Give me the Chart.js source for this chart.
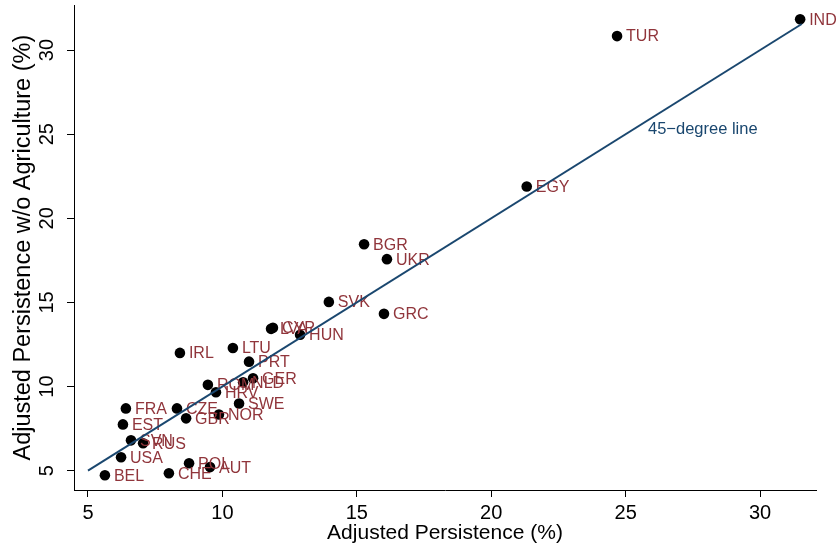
<!DOCTYPE html>
<html>
<head>
<meta charset="utf-8">
<script src="https://cdn.jsdelivr.net/npm/chart.js@4"></script>
<style>
  html, body { margin: 0; padding: 0; background: #ffffff; }
  #wrap { width: 838px; height: 550px; }
</style>
</head>
<body>
<div id="wrap"><canvas id="chart" width="838" height="550"></canvas></div>
<script>
// Country codes and the two persistence measures (%)
const countries = ['IND','TUR','EGY','BGR','UKR','SVK','GRC','HUN','LVA','CYP',
                   'IRL','LTU','PRT','GER','NLD','ROM','HRV','SWE','NOR','CZE',
                   'GBR','FRA','EST','SVN','RUS','USA','BEL','CHE','POL','AUT'];
const adjPersistence = [31.49, 24.68, 21.32, 15.27, 16.12, 13.96, 16.01, 12.89, 11.81, 11.88,
                        8.42, 10.39, 10.99, 11.14, 10.77, 9.46, 9.76, 10.62, 9.87, 8.31,
                        8.65, 6.41, 6.30, 6.60, 7.05, 6.23, 5.63, 8.01, 8.76, 9.54];
const adjPersistenceNoAgri = [31.83, 30.83, 21.89, 18.46, 17.57, 15.03, 14.32, 13.08, 13.43, 13.49,
                              12.00, 12.29, 11.48, 10.49, 10.25, 10.10, 9.66, 8.99, 8.34, 8.70,
                              8.11, 8.70, 7.75, 6.80, 6.63, 5.80, 4.73, 4.85, 5.44, 5.21];

// Axis ticks
const xTicks = [5, 10, 15, 20, 25, 30];
const yTicks = [5, 10, 15, 20, 25, 30];

// 45-degree reference line (y = x) and its caption
const lineRange = [5, 31.55];
const lineCaption = '45\u2212degree line';
const lineCaptionAt = [25.83, 25.3];

const CRANBERRY = '#90353b';
const NAVY = '#1a476f';

Chart.defaults.font.family = '"Liberation Sans", Arial, Helvetica, sans-serif';
Chart.defaults.color = '#000000';

const scatterPoints = countries.map((c, i) => ({ x: adjPersistence[i], y: adjPersistenceNoAgri[i] }));
const diagonal = lineRange.map(v => ({ x: v, y: v }));

// Country codes to the right of each marker, drawn before the reference line
const pointLabels = {
  id: 'pointLabels',
  afterDatasetDraw(chart, args) {
    if (args.index !== 0) return;
    const ctx = chart.ctx;
    ctx.save();
    ctx.font = '16px "Liberation Sans", Arial, sans-serif';
    ctx.fillStyle = CRANBERRY;
    ctx.textAlign = 'left';
    ctx.textBaseline = 'middle';
    args.meta.data.forEach((el, i) => {
      ctx.fillText(countries[i], el.x + 9, el.y + 1);
    });
    ctx.restore();
  }
};

// Caption for the reference line
const lineNote = {
  id: 'lineNote',
  afterDatasetsDraw(chart) {
    const ctx = chart.ctx;
    const px = chart.scales.x.getPixelForValue(lineCaptionAt[0]);
    const py = chart.scales.y.getPixelForValue(lineCaptionAt[1]);
    ctx.save();
    ctx.font = '16.5px "Liberation Sans", Arial, sans-serif';
    ctx.fillStyle = NAVY;
    ctx.textAlign = 'left';
    ctx.textBaseline = 'middle';
    ctx.fillText(lineCaption, px, py);
    ctx.restore();
  }
};

new Chart(document.getElementById('chart'), {
  type: 'scatter',
  data: {
    datasets: [
      {
        label: 'countries',
        data: scatterPoints,
        backgroundColor: '#000000',
        borderWidth: 0,
        pointRadius: 5.3,
        pointHoverRadius: 5.3,
        order: 1
      },
      {
        label: 'y = x',
        data: diagonal,
        showLine: true,
        borderColor: NAVY,
        borderWidth: 2,
        pointRadius: 0,
        fill: false,
        order: 0
      }
    ]
  },
  options: {
    responsive: false,
    animation: false,
    devicePixelRatio: 1,
    layout: { padding: { top: 3, right: 22, left: 0, bottom: 0 } },
    plugins: { legend: { display: false }, tooltip: { enabled: false } },
    scales: {
      x: {
        type: 'linear',
        min: 4.48,
        max: 32.08,
        afterBuildTicks: s => { s.ticks = xTicks.map(v => ({ value: v })); },
        afterFit: s => { s.height = 60; s.paddingLeft = 0; s.paddingRight = 0; },
        ticks: { font: { size: 20 }, color: '#000', padding: 4, maxRotation: 0 },
        grid: { drawOnChartArea: false, drawTicks: true, tickLength: 7, color: '#000', lineWidth: 1 },
        border: { display: true, color: '#000', width: 1 },
        title: { display: true, text: 'Adjusted Persistence (%)', font: { size: 21 }, color: '#000', padding: { top: 0, bottom: 4 } }
      },
      y: {
        type: 'linear',
        min: 3.85,
        max: 32.66,
        afterBuildTicks: s => { s.ticks = yTicks.map(v => ({ value: v })); },
        afterFit: s => { s.width = 74; s.paddingTop = 0; s.paddingBottom = 0; },
        ticks: { font: { size: 20 }, color: '#000', padding: 8, minRotation: 90, maxRotation: 90, crossAlign: 'center' },
        grid: { drawOnChartArea: false, drawTicks: true, tickLength: 7, color: '#000', lineWidth: 1 },
        border: { display: true, color: '#000', width: 1 },
        title: { display: true, text: 'Adjusted Persistence w/o Agriculture (%)', font: { size: 23.5 }, color: '#000', padding: { top: 9, bottom: 0 } }
      }
    }
  },
  plugins: [pointLabels, lineNote]
});
</script>
</body>
</html>
